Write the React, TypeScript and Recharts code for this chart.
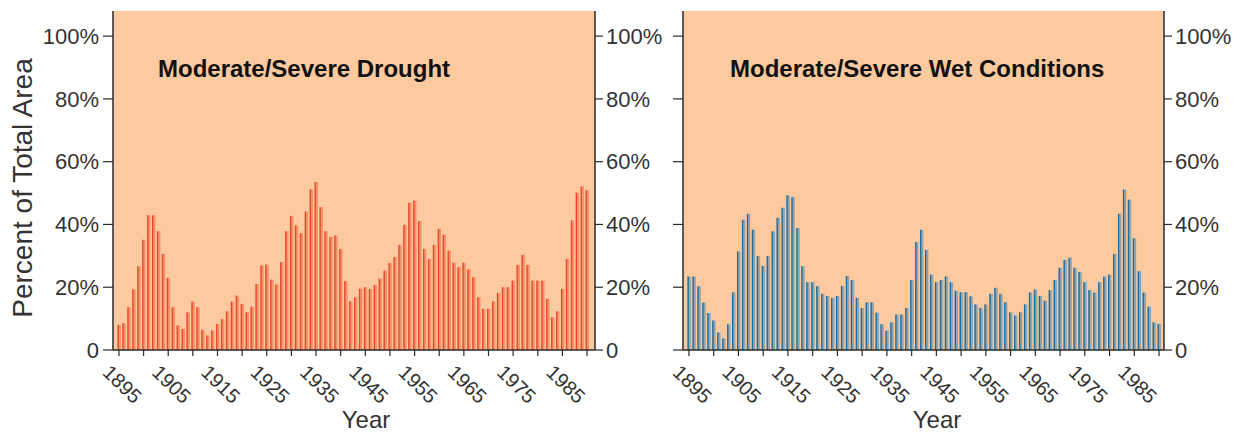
import { BarChart, Bar, XAxis, YAxis, CartesianGrid } from 'recharts'

const years = [
  1895, 1896, 1897, 1898, 1899, 1900, 1901, 1902, 1903, 1904,
  1905, 1906, 1907, 1908, 1909, 1910, 1911, 1912, 1913, 1914,
  1915, 1916, 1917, 1918, 1919, 1920, 1921, 1922, 1923, 1924,
  1925, 1926, 1927, 1928, 1929, 1930, 1931, 1932, 1933, 1934,
  1935, 1936, 1937, 1938, 1939, 1940, 1941, 1942, 1943, 1944,
  1945, 1946, 1947, 1948, 1949, 1950, 1951, 1952, 1953, 1954,
  1955, 1956, 1957, 1958, 1959, 1960, 1961, 1962, 1963, 1964,
  1965, 1966, 1967, 1968, 1969, 1970, 1971, 1972, 1973, 1974,
  1975, 1976, 1977, 1978, 1979, 1980, 1981, 1982, 1983, 1984,
  1985, 1986, 1987, 1988, 1989, 1990,
]

// percent of area in moderate/severe drought
const drought = [
  8, 8.5, 13.6, 19.3, 26.7, 35.1, 42.9, 42.9, 37.8, 30.6,
  23, 13.6, 7.8, 6.7, 12, 15.4, 13.6, 6.4, 4.6, 6.2,
  8.3, 9.8, 12.3, 15.4, 17.3, 14.7, 12, 13.8, 21, 26.9,
  27.2, 22.4, 20.9, 28, 37.8, 42.7, 39.7, 37.2, 44.1, 51.2,
  53.5, 45.5, 37.8, 36, 36.5, 32.2, 21.9, 15.5, 16.8, 19.5,
  20, 19.5, 20.7, 22.7, 25.3, 27.7, 29.6, 33.5, 39.9, 46.9,
  47.6, 41.1, 32.2, 29, 33.5, 38.6, 36.7, 31.6, 27.8, 26.4,
  27.8, 25.7, 23.2, 16.8, 13.1, 13.1, 15.5, 18.2, 20, 20,
  22.1, 27.1, 30.3, 27.1, 22.1, 22.1, 22.1, 16.3, 10.4, 12.3,
  19.5, 29, 41.3, 50.1, 52.1, 50.9,
]

// percent of area in moderate/severe wet conditions
const wet = [
  23.4, 23.4, 20.3, 15.1, 11.8, 9.4, 5.6, 3.7, 8.2, 18.4,
  31.4, 41.5, 43.4, 38.3, 29.9, 26.8, 29.9, 37.8, 42.1, 45.3,
  49.3, 48.7, 38.9, 26.7, 21.6, 21.6, 20.3, 17.9, 17.2, 16.6,
  17.2, 20.4, 23.6, 22.3, 16.6, 13.4, 15.2, 15.2, 11.9, 8.2,
  6.2, 8.8, 11.3, 11.3, 13.4, 22.3, 34.4, 38.3, 31.9, 24,
  21.6, 22.3, 23.4, 21.6, 18.9, 18.4, 18.4, 17.1, 14.5, 13.4,
  14.5, 17.9, 19.8, 17.9, 15.2, 12, 11, 12, 14.5, 18.3,
  19.3, 17.2, 15.7, 19.1, 22.3, 26.2, 28.7, 29.4, 26.2, 24.8,
  21.6, 19.1, 18.3, 21.6, 23.4, 24, 30.6, 43.4, 51.1, 47.9,
  35.6, 25.1, 18.3, 13.8, 8.8, 8.3,
]

const yTicks = [0, 20, 40, 60, 80, 100]

const droughtData = years.map((year, i) => ({ year, value: drought[i] }))
const wetData = years.map((year, i) => ({ year, value: wet[i] }))

const FONT = '"Liberation Sans", Arial, Helvetica, sans-serif'
const BG = '#FDCAA0'
const AXIS = '#2a2a2a'
const TEXT = '#333'

const pct = (v: number) => (v === 0 ? '0' : `${v}%`)

const YearTick = ({ x, y, payload }: any) => {
  const yr = payload.value
  if ((yr - 1895) % 10 !== 0) return null
  const tx = x - 7
  const ty = y + 5
  return (
    <text
      x={tx}
      y={ty}
      dy="0.75em"
      transform={`rotate(44, ${tx}, ${ty})`}
      fontFamily={FONT}
      fontSize={20}
      fill={TEXT}
      textAnchor="start"
    >
      {yr}
    </text>
  )
}

const makeShape = (light: string, dark: string) => (props: any) => {
  const { x, y, width, height } = props
  if (!height || height <= 0) return null
  return (
    <g>
      <rect x={x} y={y} width={width} height={height} fill={light} />
      <rect x={x} y={y} width={1.3} height={height} fill={dark} />
    </g>
  )
}

const droughtShape = makeShape('#F7916A', '#E24A2C')
const wetShape = makeShape('#93A6AE', '#1E6C9C')

interface PanelProps {
  data: { year: number; value: number }[]
  width: number
  leftLabels: boolean
  pad: { left: number; right: number }
  shape: any
  rightW: number
}

function Panel({ data, width, leftLabels, pad, shape, rightW }: PanelProps) {
  return (
    <BarChart
      width={width}
      height={436}
      data={data}
      margin={{ top: 11, right: 0, bottom: 0, left: 0 }}
      barCategoryGap={0}
      style={{ fontFamily: FONT }}
    >
      <CartesianGrid fill={BG} horizontal={false} vertical={false} />
      <XAxis
        dataKey="year"
        interval={4}
        padding={pad}
        height={86}
        axisLine={{ stroke: AXIS, strokeWidth: 1.5 }}
        tickLine={{ stroke: AXIS, strokeWidth: 1.2 }}
        tickSize={6}
        tick={<YearTick />}
      />
      <XAxis
        xAxisId="top"
        orientation="top"
        dataKey="year"
        height={0}
        tick={false}
        tickLine={false}
        axisLine={{ stroke: AXIS, strokeWidth: 1.5 }}
      />
      <YAxis
        yAxisId="l"
        type="number"
        domain={[0, 108]}
        allowDataOverflow
        ticks={yTicks}
        width={113}
        tickSize={10}
        tickMargin={4}
        axisLine={{ stroke: AXIS, strokeWidth: 1.5 }}
        tickLine={{ stroke: AXIS, strokeWidth: 1.2 }}
        tickFormatter={(v: number) => (leftLabels ? pct(v) : '')}
        tick={{ fontSize: 22, fill: TEXT, fontFamily: FONT }}
      />
      <YAxis
        yAxisId="r"
        type="number"
        orientation="right"
        domain={[0, 108]}
        allowDataOverflow
        ticks={yTicks}
        width={rightW}
        tickSize={8}
        tickMargin={3}
        axisLine={{ stroke: AXIS, strokeWidth: 1.5 }}
        tickLine={{ stroke: AXIS, strokeWidth: 1.2 }}
        tickFormatter={pct}
        tick={{ fontSize: 22, fill: TEXT, fontFamily: FONT, textAnchor: 'start' }}
      />
      <Bar
        yAxisId="l"
        dataKey="value"
        barSize={3.4}
        shape={shape}
        isAnimationActive={false}
      />
      <Bar yAxisId="r" dataKey="none" barSize={0} isAnimationActive={false} legendType="none" />
    </BarChart>
  )
}

const textStyle: any = {
  position: 'absolute',
  fontFamily: FONT,
  whiteSpace: 'nowrap',
  lineHeight: 1,
}

export default function App() {
  return (
    <div
      style={{
        position: 'absolute',
        left: 0,
        top: 0,
        width: 1247,
        height: 436,
        background: '#fff',
        overflow: 'hidden',
      }}
    >
      <div style={{ position: 'absolute', left: 0, top: 0 }}>
        <Panel
          data={droughtData}
          width={680}
          leftLabels={true}
          pad={{ left: 3.5, right: 5.5 }}
          shape={droughtShape}
          rightW={85}
        />
      </div>
      <div style={{ position: 'absolute', left: 570, top: 0 }}>
        <Panel
          data={wetData}
          width={677}
          leftLabels={false}
          pad={{ left: 3.5, right: 2.5 }}
          shape={wetShape}
          rightW={83}
        />
      </div>
      <div style={{ ...textStyle, left: 158, top: 57, fontSize: 24, fontWeight: 'bold', color: '#111' }}>
        Moderate/Severe Drought
      </div>
      <div style={{ ...textStyle, left: 730, top: 57, fontSize: 24, fontWeight: 'bold', color: '#111' }}>
        Moderate/Severe Wet Conditions
      </div>
      <div
        style={{
          ...textStyle,
          left: 23,
          top: 188,
          fontSize: 28,
          color: TEXT,
          transform: 'translate(-50%, -50%) rotate(-90deg)',
        }}
      >
        Percent of Total Area
      </div>
      <div style={{ ...textStyle, left: 366, top: 408, fontSize: 24, color: TEXT, transform: 'translateX(-50%)' }}>
        Year
      </div>
      <div style={{ ...textStyle, left: 937, top: 408, fontSize: 24, color: TEXT, transform: 'translateX(-50%)' }}>
        Year
      </div>
    </div>
  )
}
